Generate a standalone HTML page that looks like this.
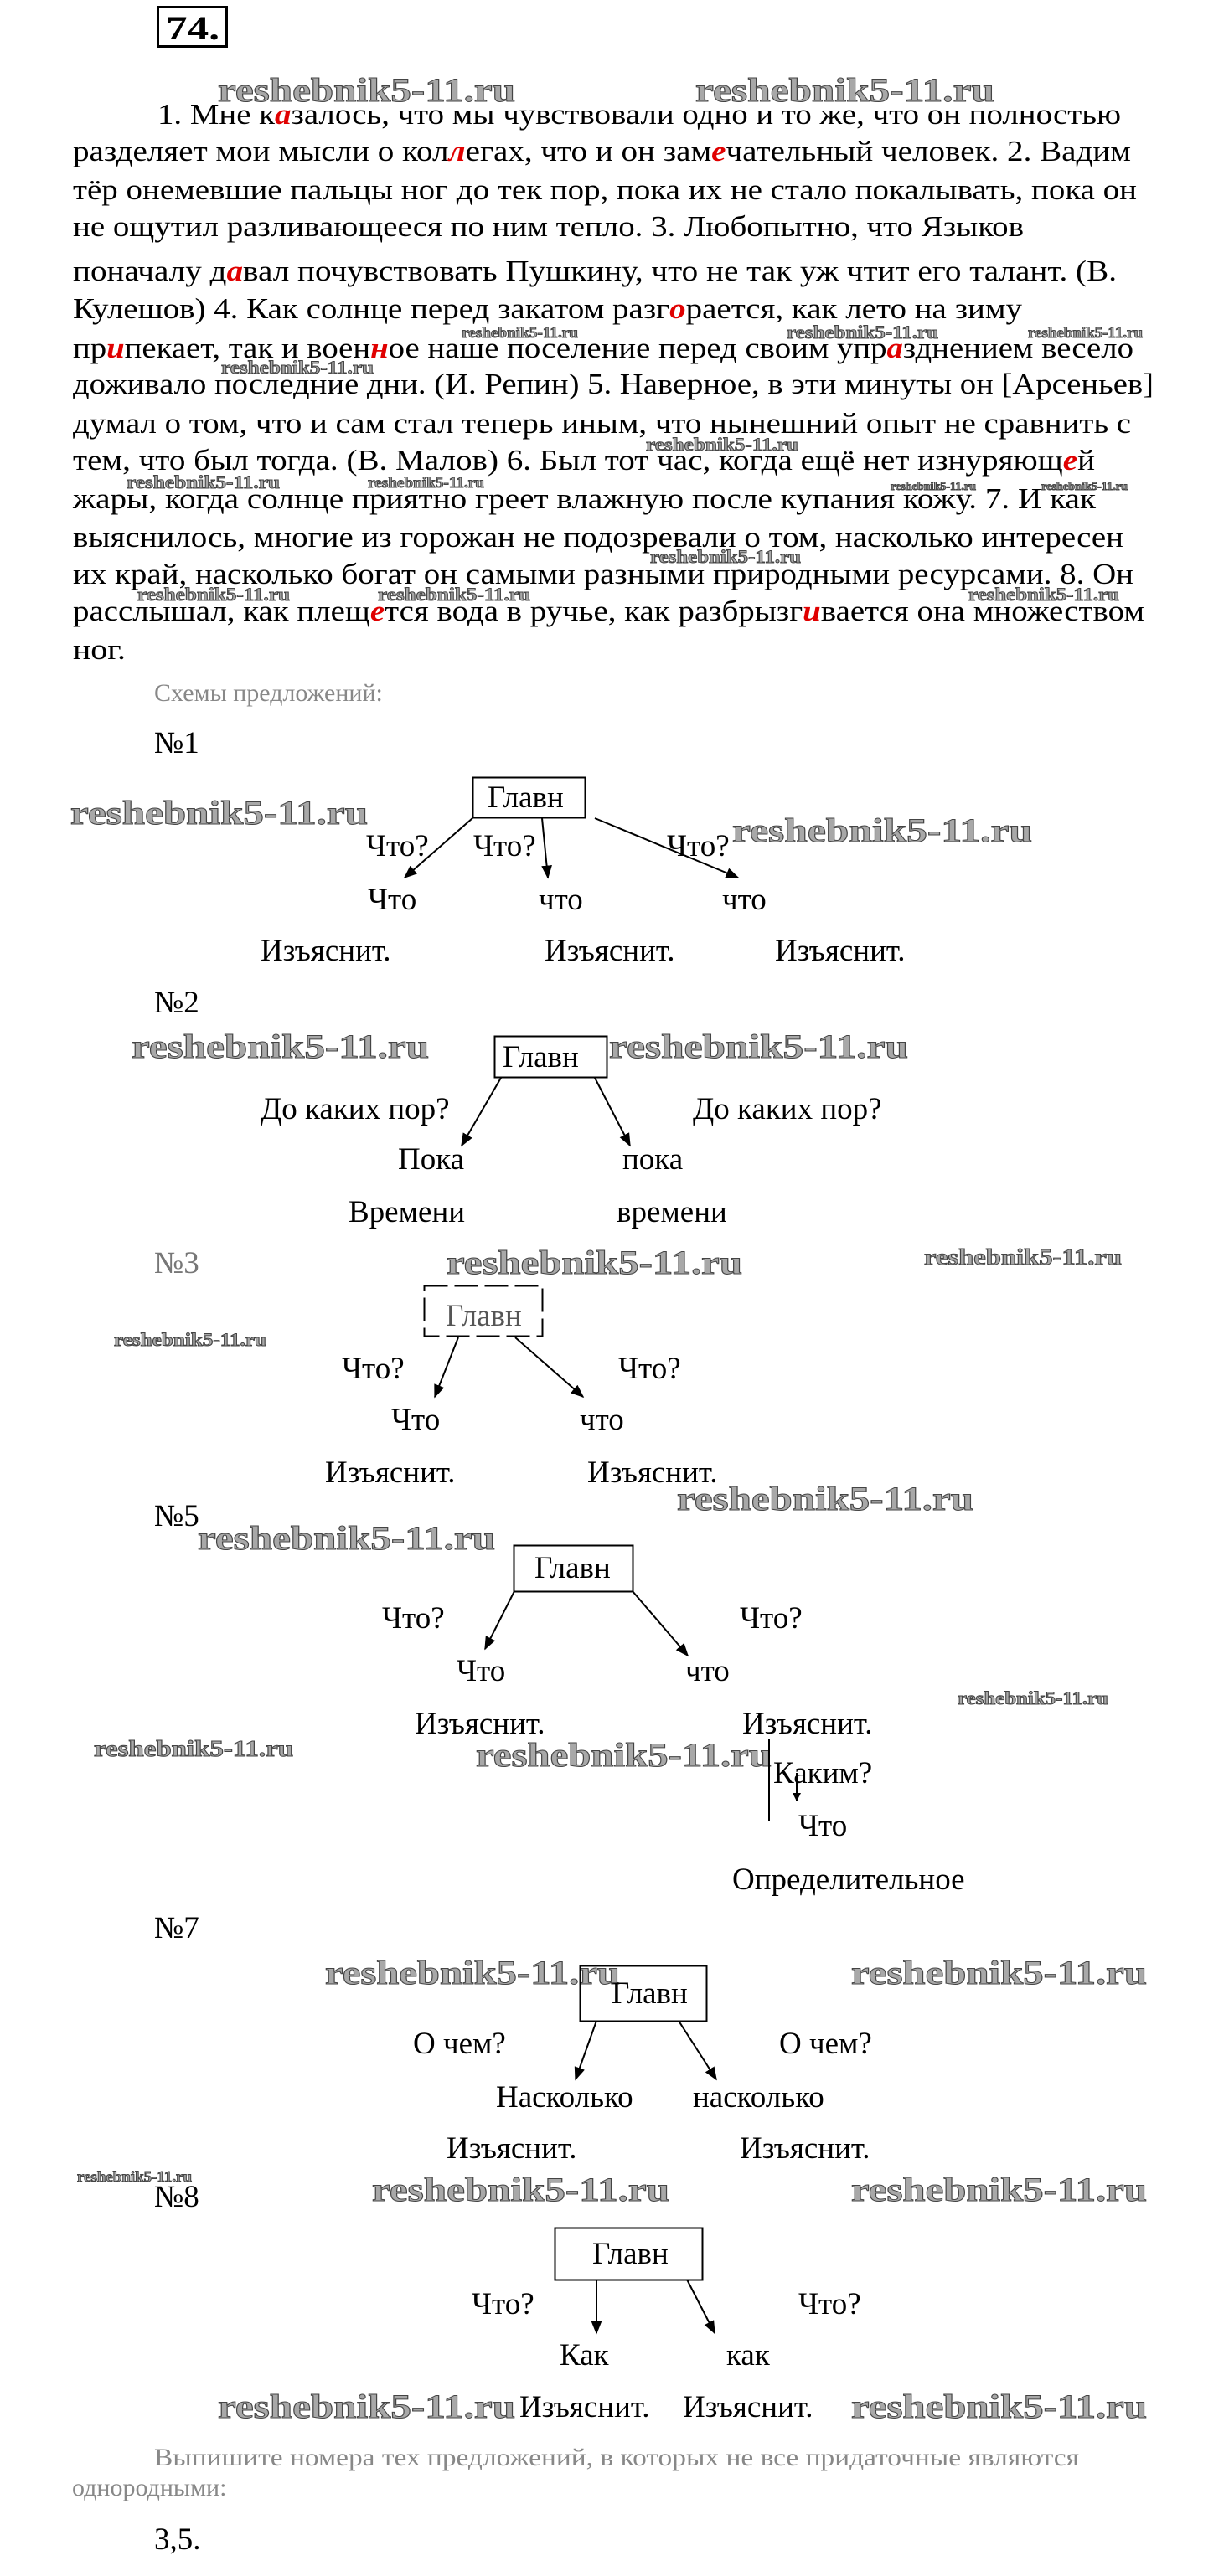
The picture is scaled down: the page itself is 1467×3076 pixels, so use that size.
<!DOCTYPE html>
<html><head><meta charset="utf-8"><style>
html,body{margin:0;padding:0;background:#fff;}
svg{display:block;}
.t{font-family:"Liberation Serif",serif;font-size:35px;fill:#000;}
.r{fill:#e00000;font-style:italic;font-weight:bold;}
.d{font-family:"Liberation Serif",serif;font-size:37px;fill:#000;}
.g{font-family:"Liberation Serif",serif;font-size:30px;fill:#888;}
.w{font-family:"Liberation Serif",serif;font-weight:bold;fill:#a8a8a8;stroke:#444;stroke-width:1;}
</style></head><body>
<svg width="1467" height="3076" viewBox="0 0 1467 3076" xmlns="http://www.w3.org/2000/svg">
<rect x="0" y="0" width="1467" height="3076" fill="#fff"/>
<rect x="188.5" y="8.5" width="82" height="47" fill="none" stroke="#000" stroke-width="3"/>
<text x="198" y="47" font-family="Liberation Serif,serif" font-weight="bold" font-size="40" textLength="64" lengthAdjust="spacingAndGlyphs">74.</text>

<!-- watermarks top -->
<text class="w" x="260" y="121" font-size="40" textLength="355" lengthAdjust="spacingAndGlyphs">reshebnik5-11.ru</text>
<text class="w" x="830" y="121" font-size="40" textLength="357" lengthAdjust="spacingAndGlyphs">reshebnik5-11.ru</text>

<g class="t">
<text x="188" y="148" textLength="1150" lengthAdjust="spacingAndGlyphs">1. Мне к<tspan class="r">а</tspan>залось, что мы чувствовали одно и то же, что он полностью</text>
<text x="87" y="192" textLength="1263" lengthAdjust="spacingAndGlyphs">разделяет мои мысли о кол<tspan class="r">л</tspan>егах, что и он зам<tspan class="r">е</tspan>чательный человек. 2. Вадим</text>
<text x="87" y="238" textLength="1270" lengthAdjust="spacingAndGlyphs">тёр онемевшие пальцы ног до тек пор, пока их не стало покалывать, пока он</text>
<text x="87" y="282" textLength="1135" lengthAdjust="spacingAndGlyphs">не ощутил разливающееся по ним тепло. 3. Любопытно, что Языков</text>
<text x="87" y="335" textLength="1246" lengthAdjust="spacingAndGlyphs">поначалу д<tspan class="r">а</tspan>вал почувствовать Пушкину, что не так уж чтит его талант. (В.</text>
<text x="87" y="380" textLength="1133" lengthAdjust="spacingAndGlyphs">Кулешов) 4. Как солнце перед закатом разг<tspan class="r">о</tspan>рается, как лето на зиму</text>
<text x="87" y="427" textLength="1266" lengthAdjust="spacingAndGlyphs">пр<tspan class="r">и</tspan>пекает, так и воен<tspan class="r">н</tspan>ое наше поселение перед своим упр<tspan class="r">а</tspan>зднением весело</text>
<text x="87" y="470" textLength="1290" lengthAdjust="spacingAndGlyphs">доживало последние дни. (И. Репин) 5. Наверное, в эти минуты он [Арсеньев]</text>
<text x="87" y="517" textLength="1263" lengthAdjust="spacingAndGlyphs">думал о том, что и сам стал теперь иным, что нынешний опыт не сравнить с</text>
<text x="87" y="561" textLength="1220" lengthAdjust="spacingAndGlyphs">тем, что был тогда. (В. Малов) 6. Был тот час, когда ещё нет изнуряющ<tspan class="r">е</tspan>й</text>
<text x="87" y="607" textLength="1221" lengthAdjust="spacingAndGlyphs">жары, когда солнце приятно греет влажную после купания кожу. 7. И как</text>
<text x="87" y="653" textLength="1254" lengthAdjust="spacingAndGlyphs">выяснилось, многие из горожан не подозревали о том, насколько интересен</text>
<text x="87" y="697" textLength="1266" lengthAdjust="spacingAndGlyphs">их край, насколько богат он самыми разными природными ресурсами. 8. Он</text>
<text x="87" y="741" textLength="1279" lengthAdjust="spacingAndGlyphs">расслышал, как плещ<tspan class="r">е</tspan>тся вода в ручье, как разбрызг<tspan class="r">и</tspan>вается она множеством</text>
<text x="87" y="787" textLength="63" lengthAdjust="spacingAndGlyphs">ног.</text>
</g>

<!-- small watermarks in text -->
<text class="w" x="551" y="403" font-size="18" textLength="139" lengthAdjust="spacingAndGlyphs">reshebnik5-11.ru</text>
<text class="w" x="939" y="404" font-size="22" textLength="181" lengthAdjust="spacingAndGlyphs">reshebnik5-11.ru</text>
<text class="w" x="1227" y="403" font-size="18" textLength="137" lengthAdjust="spacingAndGlyphs">reshebnik5-11.ru</text>
<text class="w" x="264" y="446" font-size="22" textLength="182" lengthAdjust="spacingAndGlyphs">reshebnik5-11.ru</text>
<text class="w" x="771" y="538" font-size="22" textLength="182" lengthAdjust="spacingAndGlyphs">reshebnik5-11.ru</text>
<text class="w" x="151" y="583" font-size="22" textLength="183" lengthAdjust="spacingAndGlyphs">reshebnik5-11.ru</text>
<text class="w" x="439" y="582" font-size="18" textLength="139" lengthAdjust="spacingAndGlyphs">reshebnik5-11.ru</text>
<text class="w" x="1063" y="585" font-size="14" textLength="102" lengthAdjust="spacingAndGlyphs">reshebnik5-11.ru</text>
<text class="w" x="1243" y="585" font-size="14" textLength="103" lengthAdjust="spacingAndGlyphs">reshebnik5-11.ru</text>
<text class="w" x="776" y="672" font-size="22" textLength="180" lengthAdjust="spacingAndGlyphs">reshebnik5-11.ru</text>
<text class="w" x="164" y="717" font-size="22" textLength="182" lengthAdjust="spacingAndGlyphs">reshebnik5-11.ru</text>
<text class="w" x="451" y="717" font-size="22" textLength="182" lengthAdjust="spacingAndGlyphs">reshebnik5-11.ru</text>
<text class="w" x="1156" y="717" font-size="22" textLength="180" lengthAdjust="spacingAndGlyphs">reshebnik5-11.ru</text>

<text class="g" x="184" y="837">Схемы предложений:</text>

<defs><marker id="a" markerWidth="10" markerHeight="10" refX="9" refY="5" orient="auto" markerUnits="userSpaceOnUse"><path d="M0,0 L10,5 L0,10 z" fill="#000"/></marker>
<marker id="b" viewBox="0 0 10 10" markerWidth="16" markerHeight="16" refX="9" refY="5" orient="auto" markerUnits="userSpaceOnUse"><path d="M0,1 L10,5 L0,9 z" fill="#000"/></marker></defs>

<g class="d">
<!-- №1 -->
<text x="184" y="899">№1</text>
<text class="w" x="84" y="984" font-size="40" textLength="355" lengthAdjust="spacingAndGlyphs">reshebnik5-11.ru</text>
<text class="w" x="874" y="1005" font-size="40" textLength="358" lengthAdjust="spacingAndGlyphs">reshebnik5-11.ru</text>
<rect x="564.5" y="928.5" width="134" height="48" fill="none" stroke="#000" stroke-width="2"/>
<text x="582" y="964">Главн</text>
<g stroke="#000" stroke-width="2" marker-end="url(#b)">
<line x1="564" y1="977" x2="483" y2="1048"/>
<line x1="647" y1="977" x2="654" y2="1048"/>
<line x1="710" y1="977" x2="881" y2="1048"/>
</g>
<text x="437" y="1022">Что?</text><text x="565" y="1022">Что?</text><text x="796" y="1022">Что?</text>
<text x="439" y="1086">Что</text><text x="643" y="1086">что</text><text x="862" y="1086">что</text>
<text x="311" y="1147">Изъяснит.</text><text x="650" y="1147">Изъяснит.</text><text x="925" y="1147">Изъяснит.</text>

<!-- №2 -->
<text x="184" y="1209">№2</text>
<text class="w" x="157" y="1263" font-size="40" textLength="355" lengthAdjust="spacingAndGlyphs">reshebnik5-11.ru</text>
<text class="w" x="727" y="1263" font-size="40" textLength="357" lengthAdjust="spacingAndGlyphs">reshebnik5-11.ru</text>
<rect x="590.5" y="1237.5" width="134" height="49" fill="none" stroke="#000" stroke-width="2"/>
<text x="600" y="1274">Главн</text>
<g stroke="#000" stroke-width="2" marker-end="url(#b)">
<line x1="598" y1="1287" x2="551" y2="1368"/>
<line x1="710" y1="1287" x2="752" y2="1368"/>
</g>
<text x="311" y="1336">До каких пор?</text><text x="827" y="1336">До каких пор?</text>
<text x="475" y="1396">Пока</text><text x="743" y="1396">пока</text>
<text x="416" y="1459">Времени</text><text x="736" y="1459">времени</text>

<!-- №3 -->
<text x="184" y="1520" fill="#777">№3</text>
<text class="w" x="533" y="1521" font-size="40" textLength="353" lengthAdjust="spacingAndGlyphs">reshebnik5-11.ru</text>
<text class="w" x="1103" y="1510" font-size="27" textLength="236" lengthAdjust="spacingAndGlyphs">reshebnik5-11.ru</text>
<rect x="506.5" y="1535.5" width="141" height="60" fill="none" stroke="#000" stroke-width="2" stroke-dasharray="28,8"/>
<text x="532" y="1583" fill="#555">Главн</text>
<text class="w" x="136" y="1607" font-size="22" textLength="182" lengthAdjust="spacingAndGlyphs">reshebnik5-11.ru</text>
<g stroke="#000" stroke-width="2" marker-end="url(#b)">
<line x1="547" y1="1597" x2="519" y2="1668"/>
<line x1="615" y1="1597" x2="696" y2="1668"/>
</g>
<text x="408" y="1646">Что?</text><text x="738" y="1646">Что?</text>
<text x="467" y="1707">Что</text><text x="692" y="1707">что</text>
<text x="388" y="1770">Изъяснит.</text><text x="701" y="1770">Изъяснит.</text>
<text class="w" x="808" y="1803" font-size="40" textLength="354" lengthAdjust="spacingAndGlyphs">reshebnik5-11.ru</text>

<!-- №5 -->
<text x="184" y="1822">№5</text>
<text class="w" x="236" y="1850" font-size="40" textLength="355" lengthAdjust="spacingAndGlyphs">reshebnik5-11.ru</text>
<rect x="613.5" y="1845.5" width="142" height="55" fill="none" stroke="#000" stroke-width="2"/>
<text x="638" y="1884">Главн</text>
<g stroke="#000" stroke-width="2" marker-end="url(#b)">
<line x1="614" y1="1900" x2="579" y2="1969"/>
<line x1="755" y1="1900" x2="821" y2="1977"/>
</g>
<text x="456" y="1944">Что?</text><text x="883" y="1944">Что?</text>
<text x="545" y="2007">Что</text><text x="818" y="2007">что</text>
<text class="w" x="1143" y="2035" font-size="22" textLength="180" lengthAdjust="spacingAndGlyphs">reshebnik5-11.ru</text>
<text x="495" y="2070">Изъяснит.</text><text x="886" y="2070">Изъяснит.</text>
<text class="w" x="112" y="2097" font-size="27" textLength="238" lengthAdjust="spacingAndGlyphs">reshebnik5-11.ru</text>
<text class="w" x="568" y="2109" font-size="40" textLength="353" lengthAdjust="spacingAndGlyphs">reshebnik5-11.ru</text>
<line x1="918" y1="2076" x2="918" y2="2174" stroke="#000" stroke-width="2"/>
<line x1="951" y1="2117" x2="951" y2="2150" stroke="#000" stroke-width="2" marker-end="url(#a)"/>
<text x="923" y="2129">Каким?</text>
<text x="953" y="2192">Что</text>
<text x="874" y="2256">Определительное</text>

<!-- №7 -->
<text x="184" y="2314">№7</text>
<text class="w" x="388" y="2369" font-size="40" textLength="352" lengthAdjust="spacingAndGlyphs">reshebnik5-11.ru</text>
<text class="w" x="1016" y="2369" font-size="40" textLength="353" lengthAdjust="spacingAndGlyphs">reshebnik5-11.ru</text>
<rect x="692.5" y="2347.5" width="151" height="66" fill="none" stroke="#000" stroke-width="2"/>
<text x="730" y="2392">Главн</text>
<g stroke="#000" stroke-width="2" marker-end="url(#b)">
<line x1="712" y1="2413" x2="687" y2="2483"/>
<line x1="810" y1="2413" x2="855" y2="2483"/>
</g>
<text x="493" y="2452">О чем?</text><text x="930" y="2452">О чем?</text>
<text x="592" y="2516">Насколько</text><text x="827" y="2516">насколько</text>
<text x="533" y="2577">Изъяснит.</text><text x="883" y="2577">Изъяснит.</text>

<!-- №8 -->
<text class="w" x="92" y="2605" font-size="18" textLength="137" lengthAdjust="spacingAndGlyphs">reshebnik5-11.ru</text>
<text x="184" y="2635">№8</text>
<text class="w" x="444" y="2628" font-size="40" textLength="355" lengthAdjust="spacingAndGlyphs">reshebnik5-11.ru</text>
<text class="w" x="1016" y="2628" font-size="40" textLength="353" lengthAdjust="spacingAndGlyphs">reshebnik5-11.ru</text>
<rect x="662.5" y="2660.5" width="176" height="62" fill="none" stroke="#000" stroke-width="2"/>
<text x="707" y="2703">Главн</text>
<g stroke="#000" stroke-width="2" marker-end="url(#b)">
<line x1="712" y1="2722" x2="712" y2="2786"/>
<line x1="820" y1="2722" x2="853" y2="2786"/>
</g>
<text x="563" y="2763">Что?</text><text x="953" y="2763">Что?</text>
<text x="668" y="2824">Как</text><text x="867" y="2824">как</text>
<text class="w" x="260" y="2887" font-size="40" textLength="355" lengthAdjust="spacingAndGlyphs">reshebnik5-11.ru</text>
<text x="620" y="2886">Изъяснит.</text><text x="815" y="2886">Изъяснит.</text>
<text class="w" x="1016" y="2887" font-size="40" textLength="353" lengthAdjust="spacingAndGlyphs">reshebnik5-11.ru</text>
</g>

<text class="g" x="184" y="2944" textLength="1104" lengthAdjust="spacingAndGlyphs">Выпишите номера тех предложений, в которых не все придаточные являются</text>
<text class="g" x="86" y="2980">однородными:</text>
<text class="d" x="184" y="3044">3,5.</text>
</svg>
</body></html>
